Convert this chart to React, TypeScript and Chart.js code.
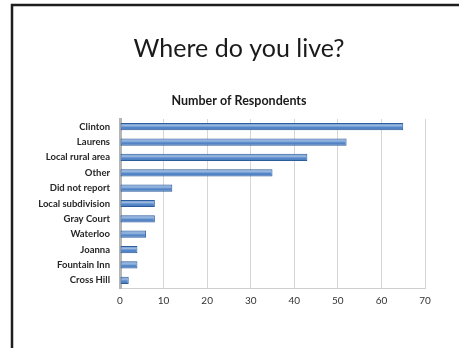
import React, { useEffect, useRef } from "react";
import { Chart, registerables } from "chart.js";

Chart.register(...registerables);

const slideTitle = "Where do you live?";
const chartTitle = "Number of Respondents";
const categories = [
  "Clinton",
  "Laurens",
  "Local rural area",
  "Other",
  "Did not report",
  "Local subdivision",
  "Gray Court",
  "Waterloo",
  "Joanna",
  "Fountain Inn",
  "Cross Hill",
];
const respondents = [65, 52, 43, 35, 12, 8, 8, 6, 4, 4, 2];
const xMin = 0;
const xMax = 70;
const xStep = 10;

const slideFrame = {
  id: "slideFrame",
  beforeDraw(chart: any) {
    const ctx = chart.ctx;
    ctx.save();
    ctx.fillStyle = "#ffffff";
    ctx.fillRect(0, 0, chart.width, chart.height);
    ctx.strokeStyle = "#1e1e1e";
    ctx.lineWidth = 2.5;
    ctx.beginPath();
    ctx.moveTo(12, chart.height);
    ctx.lineTo(12, 5);
    ctx.lineTo(chart.width, 5);
    ctx.stroke();
    ctx.restore();
  },
};

// gives the bars a light cylinder highlight, on the library's own bar elements
const barShine = {
  id: "barShine",
  afterDatasetsDraw(chart: any) {
    const ctx = chart.ctx;
    const meta = chart.getDatasetMeta(0);
    ctx.save();
    meta.data.forEach((el: any) => {
      const h = el.height;
      const top = el.y - h / 2;
      const left = Math.min(el.x, el.base);
      const w = Math.abs(el.x - el.base);
      const g = ctx.createLinearGradient(0, top, 0, top + h);
      g.addColorStop(0, "rgba(255,255,255,0.15)");
      g.addColorStop(0.35, "rgba(255,255,255,0.45)");
      g.addColorStop(0.6, "rgba(255,255,255,0.05)");
      g.addColorStop(1, "rgba(0,0,40,0.15)");
      ctx.fillStyle = g;
      ctx.fillRect(left + 1, top + 1, w - 2, h - 2);
    });
    ctx.restore();
  },
};

export default function App() {
  const ref = useRef<HTMLCanvasElement | null>(null);

  useEffect(() => {
    if (!ref.current) return;
    const chart = new Chart(ref.current, {
      type: "bar",
      data: {
        labels: categories,
        datasets: [
          {
            label: chartTitle,
            data: respondents,
            backgroundColor: "#4a80c6",
            borderColor: "#2c5d9c",
            borderWidth: 1,
            borderSkipped: false,
            categoryPercentage: 1,
            barPercentage: 0.47,
          },
        ],
      },
      options: {
        indexAxis: "y",
        animation: false,
        responsive: false,
        maintainAspectRatio: false,
        layout: { padding: { left: 19, right: 0, top: 0, bottom: 40 } },
        plugins: {
          legend: { display: false },
          tooltip: { enabled: false },
          title: {
            display: true,
            text: slideTitle,
            color: "#1a1a1a",
            font: { family: "Lato", size: 25, weight: "normal" },
            padding: { top: 34, bottom: 29 },
          },
          subtitle: {
            display: true,
            text: chartTitle,
            color: "#1a1a1a",
            font: { family: "Lato", size: 12.5, weight: "bold" },
            padding: { top: 0, bottom: 11 },
          },
        },
        scales: {
          x: {
            min: xMin,
            max: xMax,
            ticks: {
              stepSize: xStep,
              color: "#333333",
              font: { family: "Lato", size: 10 },
              padding: 7,
            },
            grid: { color: "#d6d6d6", drawTicks: false },
            border: { display: true, color: "#cfcfcf", width: 1 },
            afterFit: (scale: any) => {
              scale.height = 20;
            },
          },
          y: {
            ticks: {
              color: "#262626",
              font: { family: "Lato", size: 9.5, weight: "bold" },
              padding: 10,
              autoSkip: false,
            },
            grid: { display: false, drawTicks: false },
            border: { display: true, color: "#b5b5b5", width: 3 },
            afterFit: (scale: any) => {
              scale.width = 101;
            },
          },
          rightSpace: {
            type: "linear",
            position: "right",
            display: true,
            ticks: { display: false },
            grid: { display: false, drawTicks: false },
            border: { display: false },
            afterFit: (scale: any) => {
              scale.width = 34;
            },
          },
        },
      },
      plugins: [slideFrame, barShine],
    });
    return () => chart.destroy();
  }, []);

  return (
    <div style={{ position: "absolute", left: 0, top: 0, width: 459, height: 348 }}>
      <canvas ref={ref} width={459} height={348} style={{ display: "block" }} />
    </div>
  );
}
